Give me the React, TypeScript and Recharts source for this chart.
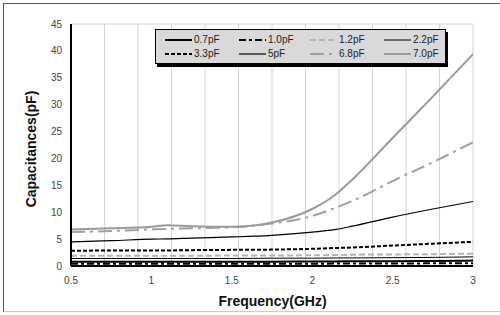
import React from 'react';
import { LineChart, Line, XAxis, YAxis, CartesianGrid, Legend } from 'recharts';

const freq = [0.5, 0.75, 1.0, 1.1, 1.25, 1.5, 1.75, 2.0, 2.15, 2.25, 2.5, 2.75, 3.0];
const c07 = [0.8, 0.8, 0.8, 0.8, 0.8, 0.8, 0.8, 0.85, 0.85, 0.9, 0.9, 0.95, 1.0];
const c10 = [0.4, 0.4, 0.4, 0.4, 0.4, 0.4, 0.4, 0.4, 0.45, 0.45, 0.45, 0.5, 0.5];
const c12 = [1.9, 1.9, 1.9, 1.9, 1.9, 1.95, 1.95, 2.0, 2.05, 2.1, 2.15, 2.2, 2.3];
const c22 = [1.4, 1.4, 1.4, 1.4, 1.4, 1.4, 1.45, 1.45, 1.5, 1.5, 1.55, 1.6, 1.7];
const c33 = [2.85, 2.87, 2.9, 2.9, 2.95, 3.0, 3.05, 3.2, 3.35, 3.45, 3.8, 4.15, 4.5];
const c50 = [4.5, 4.7, 5.0, 5.05, 5.2, 5.4, 5.7, 6.3, 6.8, 7.4, 9.1, 10.6, 12.0];
const c68 = [6.3, 6.5, 6.8, 6.9, 7.0, 7.2, 7.9, 9.3, 10.9, 12.1, 15.8, 19.3, 23.0];
const c70 = [6.8, 7.0, 7.3, 7.6, 7.4, 7.3, 8.1, 10.6, 13.4, 16.1, 23.8, 31.5, 39.4];

const xTicks = [0.5, 1, 1.5, 2, 2.5, 3];
const yTicks = [0, 5, 10, 15, 20, 25, 30, 35, 40, 45];

const seriesNames = ['0.7pF', '1.0pF', '1.2pF', '2.2pF', '3.3pF', '5pF', '6.8pF', '7.0pF'];
const seriesValues = [c07, c10, c12, c22, c33, c50, c68, c70];
const seriesStyle = [
  { stroke: '#000000', width: 2, dash: undefined as string | undefined },
  { stroke: '#000000', width: 2, dash: '7 3 3 3' },
  { stroke: '#b4b4b4', width: 2, dash: '6 3' },
  { stroke: '#000000', width: 1, dash: undefined },
  { stroke: '#000000', width: 2, dash: '4 2' },
  { stroke: '#000000', width: 1.2, dash: undefined },
  { stroke: '#a0a0a0', width: 2, dash: '14 5 3 5' },
  { stroke: '#9a9a9a', width: 2, dash: undefined },
];

const data = freq.map((f, i) => {
  const row: Record<string, number> = { f };
  seriesNames.forEach((n, k) => {
    row[n] = seriesValues[k][i];
  });
  return row;
});

const legendOrder = [0, 1, 2, 3, 4, 5, 6, 7];
const legendColLeft = [9, 83, 154, 228];

const LegendBox = () => (
  <div
    style={{
      position: 'relative',
      width: 291,
      height: 35,
      background: '#d9d9d9',
      border: '1px solid #000',
      boxShadow: '2px 3px 0 #000',
      boxSizing: 'border-box',
      fontFamily: '"Liberation Sans", Arial, sans-serif',
      fontSize: 10,
      color: '#222',
    }}
  >
    {legendOrder.map((k, idx) => {
      const col = idx % 4;
      const row = Math.floor(idx / 4);
      const s = seriesStyle[k];
      return (
        <div
          key={k}
          style={{
            position: 'absolute',
            left: legendColLeft[col],
            top: 4 + row * 14,
            height: 12,
            display: 'flex',
            alignItems: 'center',
            whiteSpace: 'nowrap',
          }}
        >
          <svg width={28} height={12} style={{ display: 'block' }}>
            <line x1={0} y1={6} x2={27} y2={6} stroke={s.stroke} strokeWidth={s.width} strokeDasharray={s.dash} />
          </svg>
          <span style={{ marginLeft: 1, lineHeight: '12px' }}>{seriesNames[k]}</span>
        </div>
      );
    })}
  </div>
);

export default function App() {
  return (
    <div style={{ position: 'absolute', left: 0, top: 0, width: 500, height: 315, background: '#fff' }}>
      <div
        style={{
          position: 'absolute',
          left: 3,
          top: 3,
          width: 497,
          height: 309,
          borderTop: '1px solid #555',
          borderLeft: '1px solid #555',
          borderBottom: '1px solid #ccc',
          boxSizing: 'border-box',
        }}
      />
      <LineChart
        width={500}
        height={315}
        data={data}
        margin={{ top: 24, right: 27, bottom: 19, left: 31 }}
        style={{ position: 'absolute', left: 0, top: 0 }}
      >
        <CartesianGrid stroke="#d4d4d4" strokeWidth={1} />
        <XAxis
          xAxisId="b"
          dataKey="f"
          type="number"
          domain={[0.5, 3]}
          ticks={xTicks}
          height={30}
          tickLine={false}
          tickSize={4}
          tickMargin={7}
          axisLine={{ stroke: '#000', strokeWidth: 2 }}
          tick={{ fill: '#444', fontSize: 10, fontFamily: '"Liberation Sans", Arial, sans-serif' }}
          allowDataOverflow
        />
        <XAxis
          xAxisId="t"
          dataKey="f"
          type="number"
          orientation="top"
          domain={[0.5, 3]}
          height={0}
          tick={false}
          tickLine={false}
          axisLine={{ stroke: '#000', strokeWidth: 2 }}
        />
        <YAxis
          yAxisId="l"
          type="number"
          domain={[0, 45]}
          ticks={yTicks}
          width={40}
          tickLine={false}
          tickSize={4}
          tickMargin={5}
          axisLine={{ stroke: '#000', strokeWidth: 2 }}
          tick={{ fill: '#444', fontSize: 10, fontFamily: '"Liberation Sans", Arial, sans-serif' }}
        />
        <YAxis
          yAxisId="r"
          type="number"
          orientation="right"
          domain={[0, 45]}
          width={0}
          tick={false}
          tickLine={false}
          axisLine={{ stroke: '#000', strokeWidth: 2 }}
        />
        {seriesNames.map((n, k) => (
          <Line
            key={n}
            xAxisId="b"
            yAxisId="l"
            dataKey={n}
            type="monotone"
            stroke={seriesStyle[k].stroke}
            strokeWidth={seriesStyle[k].width}
            strokeDasharray={seriesStyle[k].dash}
            dot={false}
            activeDot={false}
            isAnimationActive={false}
          />
        ))}
        <Legend
          layout="horizontal"
          verticalAlign="middle"
          content={() => <LegendBox />}
          wrapperStyle={{ position: 'absolute', left: 155, top: 29, width: 291, height: 35 }}
        />
      </LineChart>
      <div
        style={{
          position: 'absolute',
          left: 0,
          top: 292,
          width: 545,
          textAlign: 'center',
          fontFamily: '"Liberation Sans", Arial, sans-serif',
          fontWeight: 'bold',
          fontSize: 14,
          color: '#111',
          lineHeight: '18px',
        }}
      >
        Frequency(GHz)
      </div>
      <div
        style={{
          position: 'absolute',
          left: 31 - 100,
          top: 149 - 9,
          width: 200,
          height: 18,
          textAlign: 'center',
          transform: 'rotate(-90deg)',
          fontFamily: '"Liberation Sans", Arial, sans-serif',
          fontWeight: 'bold',
          fontSize: 14,
          color: '#111',
          lineHeight: '18px',
        }}
      >
        Capacitances(pF)
      </div>
    </div>
  );
}
